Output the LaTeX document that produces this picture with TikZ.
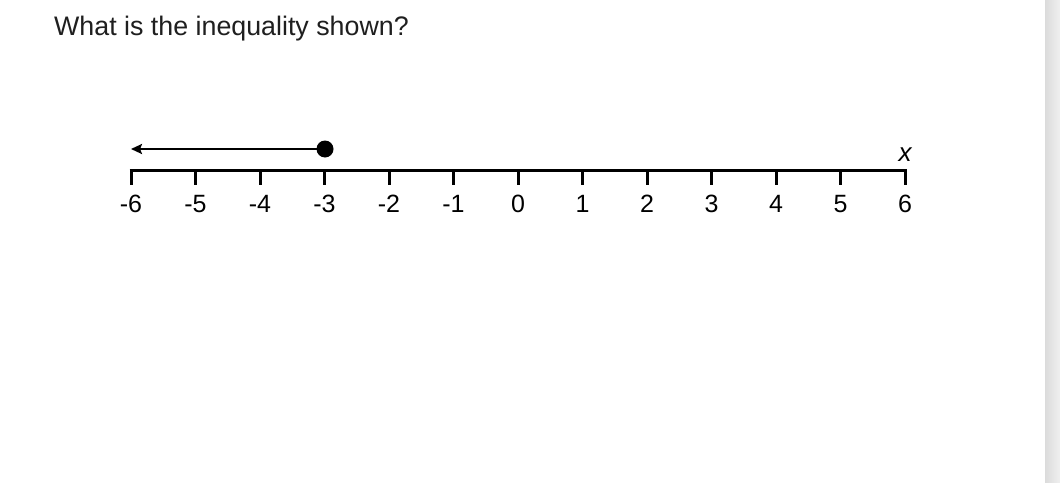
\documentclass[tikz,border=0pt]{standalone}
\usepackage{fontspec}
\setmainfont{Liberation Sans}
\usetikzlibrary{arrows.meta}
\begin{document}
\begin{tikzpicture}[x=1pt,y=-1pt,
  axisline/.style={line width=3pt,line cap=butt},
  tick/.style={line width=3pt},
  lbl/.style={font=\fontsize{25}{28}\selectfont,inner sep=0pt,anchor=base},
  raywidth/.style={line width=2.8pt}]
\useasboundingbox (0,0) rectangle (1060,482);
\fill[white] (0,0) rectangle (1060,482);
\shade[left color=black!14,right color=black!6] (1045,0) rectangle (1060,482);
\node[anchor=base west,inner sep=0pt,font=\fontsize{26.8}{30}\selectfont,text=black!88] (title) at (54,35) {What is the inequality shown?};
% axis
\coordinate (L) at (131,170.5);
\coordinate (R) at (905,170.5);
\draw[axisline] ([xshift=-1.5pt]L) -- ([xshift=1.5pt]R);
\foreach \i in {-6,...,6}{
  \pgfmathsetmacro{\xx}{518+64.5*\i}
  \coordinate (t\i) at (\xx,170.5);
  \draw[tick] (t\i) -- ++(0,14.5);
  \node[lbl] (n\i) at (\xx,212.5) {\i};
}
\node[inner sep=0pt,font=\fontsize{26}{28}\selectfont\itshape] (xlab) at (905,155) {x};
% ray
\coordinate (rayend) at (131,149);
\node[circle,fill=black,inner sep=0pt,minimum size=17pt] (dot) at (325,149) {};
\draw[raywidth,-{Stealth[length=11pt,width=10pt,inset=2pt]}] (dot.center) -- (rayend);
\end{tikzpicture}
\end{document}
